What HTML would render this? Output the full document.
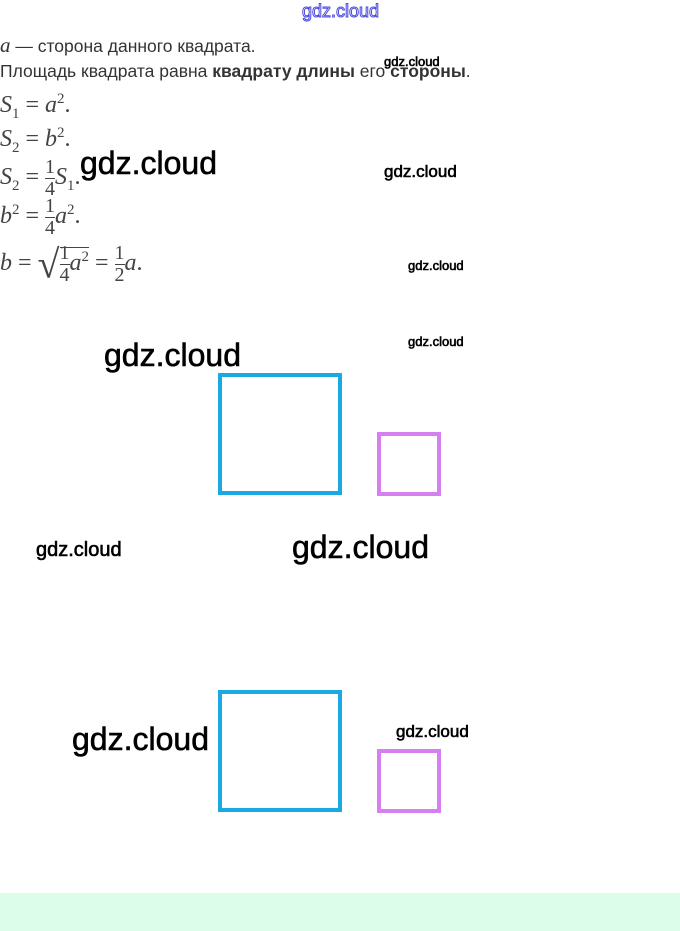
<!DOCTYPE html>
<html><head><meta charset="utf-8"><style>
body{margin:0;width:680px;height:931px;background:#fff;position:relative;overflow:hidden;font-family:"Liberation Sans",sans-serif}
.a{position:absolute;white-space:nowrap;line-height:1}
.t{color:#333;font-size:17.5px}
.m{font-family:"Liberation Serif",serif;color:#444;font-size:24px}
.m sub,.m sup{font-size:15px}
.w{color:#000;font-family:"Liberation Sans",sans-serif;-webkit-text-stroke:0.6px #000}
.f{display:inline-block;vertical-align:middle;text-align:center;font-size:20px;line-height:1.05}
.f span{display:block}
.f .n{border-bottom:1px solid #444}
</style></head><body>
<div class="a" style="left:302px;top:2px;font-size:18px;color:#fff;-webkit-text-stroke:1px #4a4adf">gdz.cloud</div>
<div class="a t" style="left:0;top:35px"><i style="font-family:'Liberation Serif';font-size:21px">a</i> — сторона данного квадрата.</div>
<div class="a t" style="left:0;top:63px">Площадь квадрата равна <b>квадрату длины</b> его <b>стороны</b>.</div>
<div class="a w" style="left:384px;top:55px;font-size:13px">gdz.cloud</div>
<div class="a m" style="left:0;top:92px"><i>S</i><sub>1</sub> = <i>a</i><sup>2</sup>.</div>
<div class="a m" style="left:0;top:126px"><i>S</i><sub>2</sub> = <i>b</i><sup>2</sup>.</div>
<div class="a m" style="left:0;top:157px"><i>S</i><sub>2</sub> = <span class="f"><span class="n">1</span><span>4</span></span><i>S</i><sub>1</sub>.</div>
<div class="a m" style="left:0;top:196px"><i>b</i><sup>2</sup> = <span class="f"><span class="n">1</span><span>4</span></span><i>a</i><sup>2</sup>.</div>
<div class="a m" style="left:0;top:243px"><i>b</i> = <span style="font-size:40px;vertical-align:middle">√</span><span style="border-top:1px solid #444;padding-top:2px"><span class="f"><span class="n">1</span><span>4</span></span><i>a</i><sup>2</sup></span> = <span class="f"><span class="n">1</span><span>2</span></span><i>a</i>.</div>
<div class="a w" style="left:80px;top:147px;font-size:32px">gdz.cloud</div>
<div class="a w" style="left:384px;top:163px;font-size:17px">gdz.cloud</div>
<div class="a w" style="left:408px;top:259px;font-size:13px">gdz.cloud</div>
<div class="a w" style="left:408px;top:335px;font-size:13px">gdz.cloud</div>
<div class="a w" style="left:104px;top:339px;font-size:32px">gdz.cloud</div>
<div class="a w" style="left:36px;top:540px;font-size:20px">gdz.cloud</div>
<div class="a w" style="left:292px;top:531px;font-size:32px">gdz.cloud</div>
<div class="a w" style="left:72px;top:723px;font-size:32px">gdz.cloud</div>
<div class="a w" style="left:396px;top:723px;font-size:17px">gdz.cloud</div>
<svg class="a" style="left:0;top:0" width="680" height="931">
<rect x="220" y="375" width="120" height="118" fill="none" stroke="#1aa9e0" stroke-width="4"/>
<rect x="379" y="434" width="60" height="60" fill="none" stroke="#d57ff0" stroke-width="4"/>
<rect x="220" y="692" width="120" height="118" fill="none" stroke="#1aa9e0" stroke-width="4"/>
<rect x="379" y="751" width="60" height="60" fill="none" stroke="#d57ff0" stroke-width="4"/>
<rect x="0" y="893" width="680" height="38" fill="#dcfde8"/>
</svg>
</body></html>
